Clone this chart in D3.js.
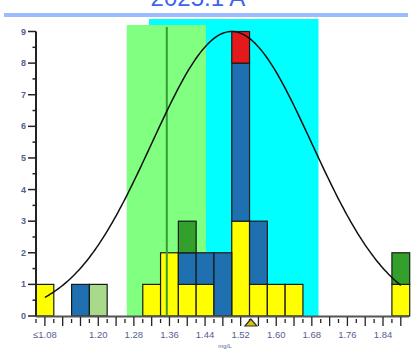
<!DOCTYPE html>
<html>
<head>
<meta charset="utf-8">
<script src="https://cdn.jsdelivr.net/npm/d3@7/dist/d3.min.js"></script>
<style>
  html, body { margin: 0; padding: 0; background: #fff; }
  svg { display: block; font-family: "Liberation Sans", Arial, sans-serif; }
</style>
</head>
<body>
<svg id="chart" width="413" height="352"></svg>
<script>
// Histogram bins (mg/L, bin centre) and stacked counts per group
const bins       = [1.08, 1.16, 1.20, 1.32, 1.36, 1.40, 1.44, 1.48, 1.52, 1.56, 1.60, 1.64, 1.88];
const yellow     = [1,    0,    0,    1,    2,    1,    1,    0,    3,    1,    1,    1,    1];
const blue       = [0,    1,    0,    0,    0,    1,    1,    2,    5,    2,    0,    0,    0];
const lightGreen = [0,    0,    1,    0,    0,    0,    0,    0,    0,    0,    0,    0,    0];
const darkGreen  = [0,    0,    0,    0,    0,    1,    0,    0,    0,    0,    0,    0,    1];
const red        = [0,    0,    0,    0,    0,    0,    0,    0,    1,    0,    0,    0,    0];
const binWidth = 0.04;

// Reference ranges and marker values (mg/L)
const outerRange = [1.314, 1.695];
const innerRange = [1.264, 1.442];
const refLine = 1.354;
const targetMark = 1.543;

// Fitted normal curve
const fitMean = 1.50, fitSd = 0.18, fitPeak = 9;
const curveRange = [1.08, 1.88];

// Axis labels
const xTickValues = [1.08, 1.20, 1.28, 1.36, 1.44, 1.52, 1.60, 1.68, 1.76, 1.84];
const xTickLabels = ["≤1.08", "1.20", "1.28", "1.36", "1.44", "1.52", "1.60", "1.68", "1.76", "1.84"];
const yTicks = [0, 1, 2, 3, 4, 5, 6, 7, 8, 9];
const title = "2025.1 A";
const xUnit = "mg/L";

const svg = d3.select("#chart");
const x = d3.scaleLinear().domain([1.06, 1.90]).range([36, 409.7]);
const y = d3.scaleLinear().domain([0, 9]).range([316, 31.5]);
const labelColor = "#55608f";

// Title and rule
svg.append("text").attr("x", 198).attr("y", 6).attr("text-anchor", "middle")
  .attr("font-size", 24).attr("fill", "#3f63f0").text(title);
svg.append("rect").attr("x", 4).attr("y", 13).attr("width", 404).attr("height", 4)
  .attr("fill", "#9dbcff");

// Range bands
svg.append("rect").attr("x", x(outerRange[0])).attr("y", 19)
  .attr("width", x(outerRange[1]) - x(outerRange[0])).attr("height", y(0) - 19)
  .attr("fill", "#00ffff");
svg.append("rect").attr("x", x(innerRange[0])).attr("y", 25)
  .attr("width", x(innerRange[1]) - x(innerRange[0])).attr("height", y(0) - 25)
  .attr("fill", "#80ff80");

// Stacked bars
const rows = bins.map((b, i) => ({
  bin: b, yellow: yellow[i], blue: blue[i], lightGreen: lightGreen[i],
  darkGreen: darkGreen[i], red: red[i]
}));
const keys = ["yellow", "blue", "lightGreen", "darkGreen", "red"];
const colors = { yellow: "#ffff00", blue: "#1f70b0", lightGreen: "#a9d98b", darkGreen: "#33a02c", red: "#e4191c" };
const stacked = d3.stack().keys(keys)(rows);
const barW = x(binWidth) - x(0);

svg.append("g").selectAll("g").data(stacked).join("g")
  .attr("fill", d => colors[d.key])
  .selectAll("rect").data(d => d.filter(s => s[1] > s[0])).join("rect")
  .attr("x", d => x(d.data.bin) - barW / 2)
  .attr("y", d => y(d[1]))
  .attr("width", barW)
  .attr("height", d => y(d[0]) - y(d[1]))
  .attr("stroke", "#1a1a1a").attr("stroke-width", 1.2);

// Reference line
svg.append("line").attr("x1", x(refLine)).attr("x2", x(refLine))
  .attr("y1", 27).attr("y2", y(0))
  .attr("stroke", "#3a9a32").attr("stroke-width", 2);

// Normal curve
const curvePts = d3.range(0, 201).map(k => {
  const v = curveRange[0] + (curveRange[1] - curveRange[0]) * k / 200;
  return [v, fitPeak * Math.exp(-((v - fitMean) ** 2) / (2 * fitSd * fitSd))];
});
svg.append("path").datum(curvePts)
  .attr("d", d3.line().x(d => x(d[0])).y(d => y(d[1])))
  .attr("fill", "none").attr("stroke", "#111").attr("stroke-width", 1.5);

// Y axis
const yAxis = svg.append("g").attr("transform", "translate(36,0)");
yAxis.append("line").attr("x1", 0).attr("x2", 0).attr("y1", y(9)).attr("y2", y(0))
  .attr("stroke", "#222").attr("stroke-width", 2);
yAxis.selectAll(".maj").data(yTicks).join("line")
  .attr("x1", -8).attr("x2", 0).attr("y1", d => y(d)).attr("y2", d => y(d))
  .attr("stroke", "#222").attr("stroke-width", 1.5);
yAxis.selectAll(".min").data(yTicks.slice(0, -1).map(d => d + 0.5)).join("line")
  .attr("x1", -3.5).attr("x2", 0).attr("y1", d => y(d)).attr("y2", d => y(d))
  .attr("stroke", "#222").attr("stroke-width", 1.5);
yAxis.selectAll("text").data(yTicks).join("text")
  .attr("x", -10).attr("y", d => y(d) + 3).attr("text-anchor", "end")
  .attr("font-size", 9).attr("font-weight", "bold").attr("fill", labelColor)
  .text(d => d);

// X axis
const xAxis = svg.append("g");
xAxis.append("line").attr("x1", 36).attr("x2", 409).attr("y1", y(0) + 0.5).attr("y2", y(0) + 0.5)
  .attr("stroke", "#555").attr("stroke-width", 2);
const minorTicks = d3.range(0, 21).map(k => 1.06 + 0.04 * k).filter(v => v <= 1.9);
const majorTicks = d3.range(0, 21).map(k => 1.08 + 0.04 * k).filter(v => v <= 1.9);
xAxis.selectAll(".mj").data(majorTicks).join("line")
  .attr("x1", d => x(d)).attr("x2", d => x(d)).attr("y1", y(0) + 1).attr("y2", y(0) + 10)
  .attr("stroke", "#222").attr("stroke-width", 1.3);
xAxis.selectAll(".mn").data(minorTicks).join("line")
  .attr("x1", d => x(d)).attr("x2", d => x(d)).attr("y1", y(0) + 3).attr("y2", y(0) + 7)
  .attr("stroke", "#222").attr("stroke-width", 1.3);
xAxis.selectAll("text").data(xTickValues).join("text")
  .attr("x", d => x(d)).attr("y", 338).attr("text-anchor", "middle")
  .attr("font-size", 9.5).attr("fill", labelColor)
  .text((d, i) => xTickLabels[i]);
svg.append("text").attr("x", 225).attr("y", 348).attr("text-anchor", "middle")
  .attr("font-size", 6).attr("fill", labelColor).text(xUnit);

// Target marker
const tx = x(targetMark);
svg.append("path")
  .attr("d", `M${tx - 6},${y(0) + 10}L${tx},${y(0) + 3}L${tx + 6},${y(0) + 10}Z`)
  .attr("fill", "#d8c400").attr("stroke", "#333").attr("stroke-width", 1.2);
</script>
</body>
</html>
